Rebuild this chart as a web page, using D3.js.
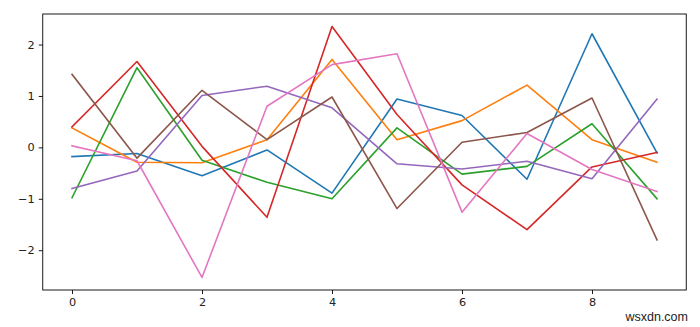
<!DOCTYPE html>
<html>
<head>
<meta charset="utf-8">
<script src="https://cdn.jsdelivr.net/npm/d3@7"></script>
<style>
  html, body { margin: 0; padding: 0; background: #fff; }
  svg { display: block; }
</style>
</head>
<body>
<svg id="chart" width="700" height="327"></svg>
<script>
const xs = [0, 1, 2, 3, 4, 5, 6, 7, 8, 9];
const blue   = [-0.18, -0.12, -0.55, -0.05, -0.89, 0.94, 0.62, -0.62, 2.21, -0.11];
const orange = [0.38, -0.29, -0.30, 0.15, 1.71, 0.15, 0.52, 1.21, 0.15, -0.29];
const green  = [-0.98, 1.55, -0.25, -0.68, -1.00, 0.38, -0.52, -0.37, 0.46, -1.00];
const red    = [0.40, 1.67, 0.02, -1.36, 2.35, 0.64, -0.73, -1.60, -0.38, -0.10];
const purple = [-0.80, -0.46, 1.01, 1.19, 0.77, -0.32, -0.42, -0.27, -0.61, 0.94];
const brown  = [1.42, -0.21, 1.11, 0.15, 0.98, -1.19, 0.10, 0.29, 0.96, -1.80];
const pink   = [0.03, -0.26, -2.53, 0.80, 1.61, 1.82, -1.26, 0.27, -0.43, -0.86];
const xTicks = [0, 2, 4, 6, 8];
const yTicks = [-2, -1, 0, 1, 2];

const series = [
  { values: blue,   color: "#1f77b4" },
  { values: orange, color: "#ff7f0e" },
  { values: green,  color: "#2ca02c" },
  { values: red,    color: "#d62728" },
  { values: purple, color: "#9467bd" },
  { values: brown,  color: "#8c564b" },
  { values: pink,   color: "#e377c2" }
];

const svg = d3.select("#chart");
const pLeft = 42.75, pRight = 686.25, pTop = 14, pBottom = 290;

const allVals = series.flatMap(s => s.values);
const ymin = d3.min(allVals), ymax = d3.max(allVals);
const ym = (ymax - ymin) * 0.05;
const xm = (d3.max(xs) - d3.min(xs)) * 0.05;

const x = d3.scaleLinear().domain([d3.min(xs) - xm, d3.max(xs) + xm]).range([pLeft, pRight]);
const y = d3.scaleLinear().domain([ymin - ym, ymax + ym]).range([pBottom, pTop]);

const fmt = d => (d < 0 ? "\u2212" + Math.abs(d) : String(d));

const line = d3.line().x((d, i) => x(xs[i])).y(d => y(d));

const g = svg.append("g");
series.forEach(s => {
  g.append("path")
    .attr("d", line(s.values))
    .attr("fill", "none")
    .attr("stroke", s.color)
    .attr("stroke-width", 1.6)
    .attr("stroke-linejoin", "round")
    .attr("stroke-linecap", "square");
});

// frame
svg.append("rect")
  .attr("x", pLeft).attr("y", pTop)
  .attr("width", pRight - pLeft).attr("height", pBottom - pTop)
  .attr("fill", "none").attr("stroke", "#000").attr("stroke-width", 0.9);

const xAxis = d3.axisBottom(x).tickValues(xTicks).tickSize(4).tickPadding(4).tickFormat(fmt);
const yAxis = d3.axisLeft(y).tickValues(yTicks).tickSize(4).tickPadding(4).tickFormat(fmt);

const gx = svg.append("g").attr("transform", `translate(0,${pBottom})`).call(xAxis);
const gy = svg.append("g").attr("transform", `translate(${pLeft},0)`).call(yAxis);
[gx, gy].forEach(a => {
  a.select(".domain").remove();
  a.selectAll(".tick line").attr("stroke", "#000").attr("stroke-width", 0.9);
  a.selectAll(".tick text")
    .attr("fill", "#222")
    .style("font-family", "DejaVu Sans, sans-serif")
    .style("font-size", "11.3px");
});

svg.append("text")
  .attr("x", 688).attr("y", 321)
  .attr("text-anchor", "end")
  .style("font-family", "Liberation Sans, Arial, sans-serif")
  .style("font-size", "12.5px")
  .attr("fill", "#222")
  .text("wsxdn.com");
</script>
</body>
</html>
